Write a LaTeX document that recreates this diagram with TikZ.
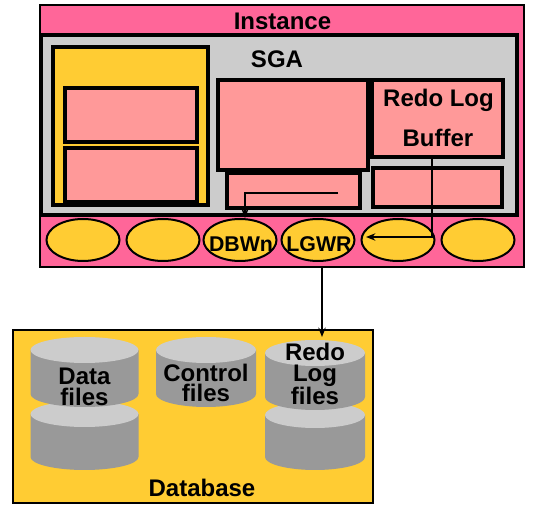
\documentclass[tikz,border=0pt]{standalone}
\usepackage{fontspec}
\newfontfamily\lab{Liberation Sans Bold}
\usetikzlibrary{arrows.meta,shapes.geometric}
\definecolor{instpink}{HTML}{FF6699}
\definecolor{lpink}{HTML}{FF9999}
\definecolor{sgagrey}{HTML}{CCCCCC}
\definecolor{ylw}{HTML}{FFCC33}
\definecolor{cyltop}{HTML}{CCCCCC}
\definecolor{cylbody}{HTML}{999999}
\tikzset{
  box/.style={draw=black, line width=2.5pt, fill=lpink},
  proc/.style={ellipse, draw=black, line width=1.5pt, fill=ylw, minimum width=73*0.75pt, minimum height=42*0.75pt, inner sep=0pt},
  bigtxt/.style={font=\lab\fontsize{18}{18}\selectfont, inner sep=0pt, anchor=base},
  proctxt/.style={font=\lab\fontsize{16}{17}\selectfont, inner sep=0pt, anchor=base},
  cyltxt/.style={font=\lab\fontsize{18}{15.5}\selectfont, align=center, inner sep=0pt},
  arr/.style={line width=1.5pt, -{Stealth[length=7pt,width=5.5pt]}},
}
\newcommand{\cylin}[5]{% cx, ytop, ybot, rx, ry
  \fill[cylbody] (#1-#4,#2) -- (#1-#4,#3) arc[start angle=180,end angle=0,x radius=#4,y radius=#5] -- (#1+#4,#2) -- cycle;
  \fill[cyltop] (#1,#2) ellipse [x radius=#4, y radius=#5];
}
\begin{document}
\begin{tikzpicture}[x=0.75pt,y=-0.75pt]
\useasboundingbox (0,0) rectangle (537,509);
% Instance
\draw[draw=black, line width=1.5pt, fill=instpink] (40,5) rectangle (524,267);
\node[bigtxt] (insttitle) at (282.5,30) {Instance};
% SGA
\draw[draw=black, line width=3pt, fill=sgagrey] (41,35) rectangle (517,215);
\node[bigtxt] (sgatitle) at (277,68) {SGA};
% yellow pool
\draw[draw=black, line width=2.5pt, fill=ylw] (53,47) rectangle (208,205);
\draw[box] (65,88) rectangle (197,142);
\draw[box] (65,148) rectangle (197,202);
% middle
\draw[box] (218,80) rectangle (368,170);
\draw[box] (372,80) rectangle (503,157);
\node[bigtxt] (redo1) at (438.5,107) {Redo Log};
\node[bigtxt] (redo2) at (438,147) {Buffer};
\draw[box] (227,173) rectangle (360,208);
\draw[box] (373,168) rectangle (502,207);
% processes
\node[proc] (p1) at (83,240) {};
\node[proc] (p2) at (163,240) {};
\node[proc] (dbwn) at (240,240) {};
\node[proc] (lgwr) at (318,240) {};
\node[proc] (p5) at (398,240) {};
\node[proc] (p6) at (478,240) {};
\node[proctxt] (dbwnt) at (241,252) {DBWn};
\node[proctxt] (lgwrt) at (319,252) {LGWR};
% arrows
\coordinate (dbsrc) at (338,193);
\coordinate (dbbend) at (245,193);
\draw[arr] (dbsrc) -- (dbbend) -- (dbbend |- dbwn.north);
\coordinate (lgsrc) at (432,157);
\coordinate (lgbend) at (432,237);
\coordinate (lgend) at (366,237);
\draw[arr] (lgsrc) -- (lgbend) -- (lgend);
% Database
\draw[draw=black, line width=1.8pt, fill=ylw] (13,330) rectangle (373,503);
\node[bigtxt] (dbtitle) at (202,497) {Database};
\cylin{84.5}{414}{457}{54}{13}
\cylin{84.5}{350}{394}{54}{13}
\cylin{206}{350}{394}{50}{13}
\cylin{315}{415}{457}{50}{13}
\cylin{315}{353}{397}{50}{13}
\node[cyltxt] (datafiles) at (84.5,387) {Data\\files};
\node[cyltxt] (ctlfiles) at (206,383) {Control\\files};
\node[cyltxt] (redofiles) at (315,374) {Redo\\Log\\files};
\coordinate (instbot) at (322,267);
\coordinate (dbtop) at (322,337);
\draw[arr] (instbot) -- (dbtop);
\end{tikzpicture}
\end{document}
